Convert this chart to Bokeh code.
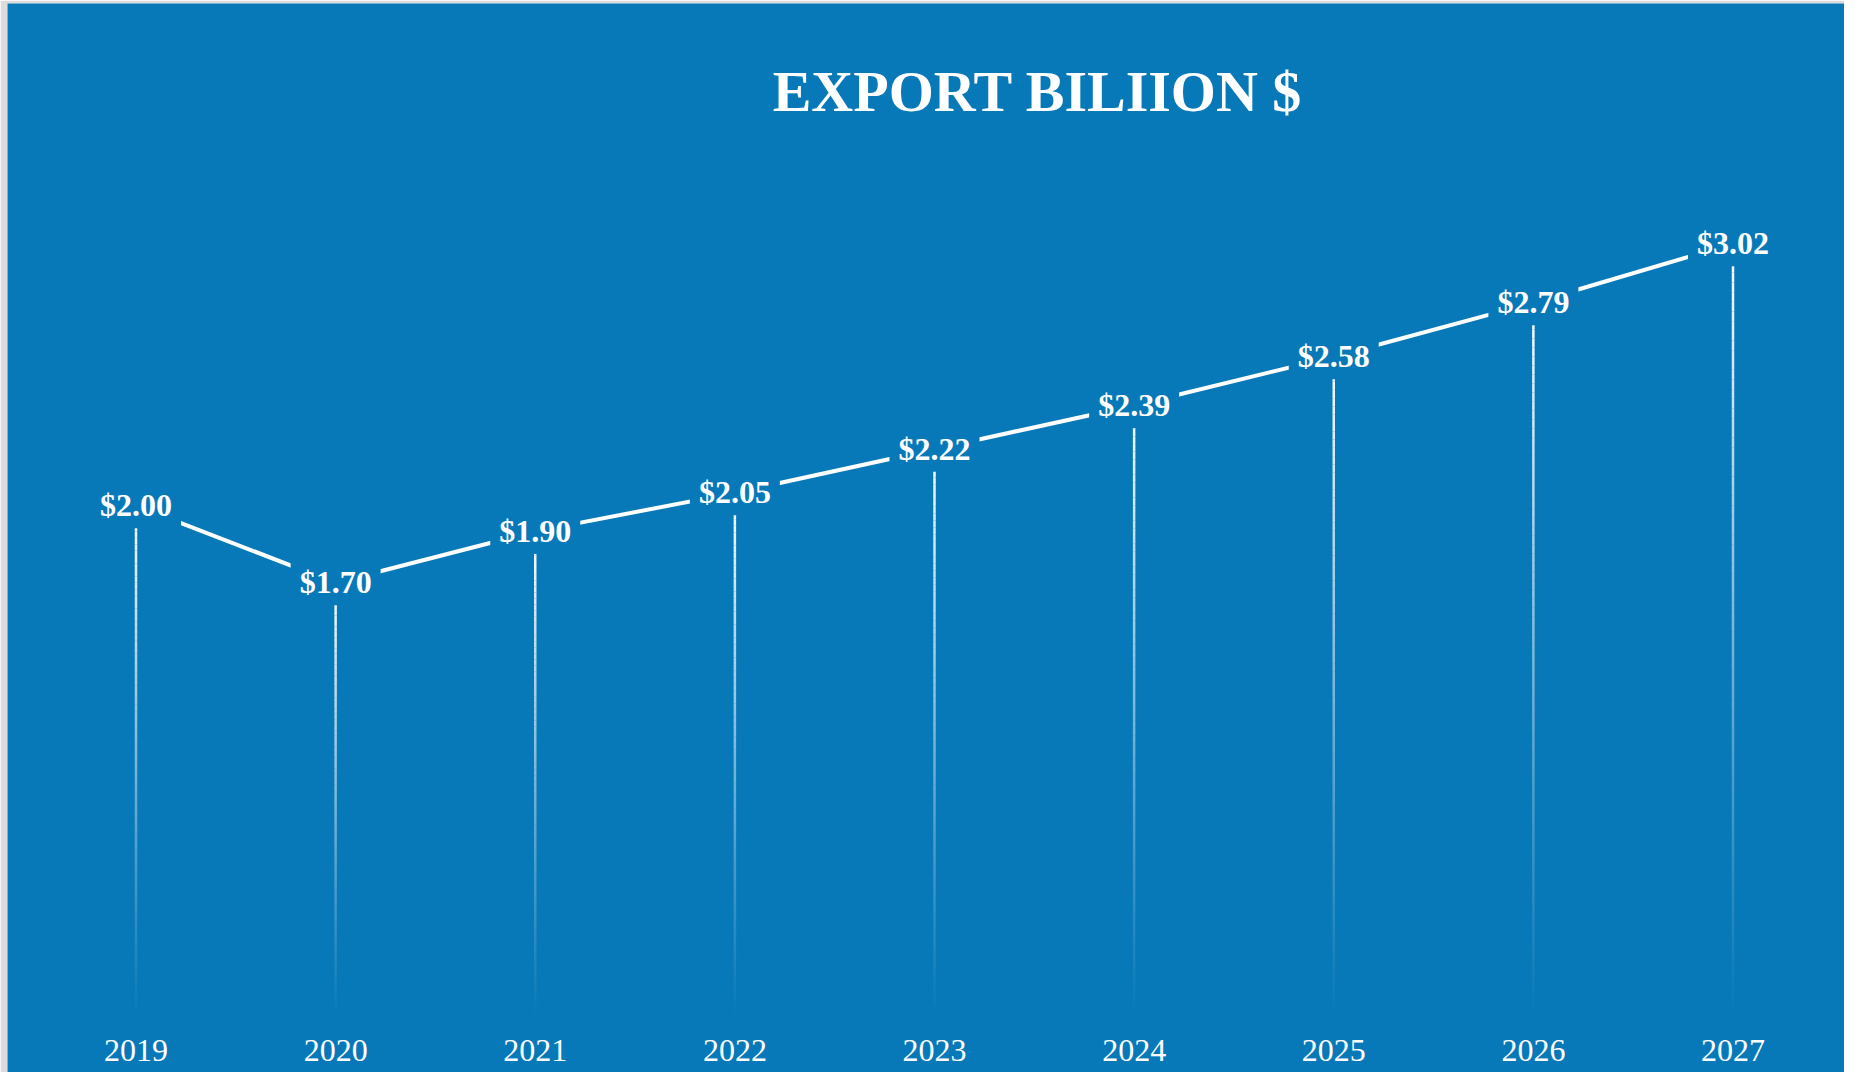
from bokeh.plotting import figure
from bokeh.models import ColumnDataSource, Range1d
from bokeh.core.properties import value
from bokeh.embed import file_html
from bokeh.resources import INLINE

# ---- data ----
years = [2019, 2020, 2021, 2022, 2023, 2024, 2025, 2026, 2027]
export_values = [2.00, 1.70, 1.90, 2.05, 2.22, 2.39, 2.58, 2.79, 3.02]
value_labels = ["$%.2f" % v for v in export_values]
year_labels = [str(y) for y in years]
title_text = "EXPORT BILIION $"

# ---- layout ----
W, H = 1844, 1072
BL, BT = 7, 3          # thin grey border (left, top)
FW, FH = W - BL, H - BT
BG = "#0879B8"
PX_PER_YEAR = 199.625
FIRST_PX = 135.5 - BL
PX_PER_UNIT = 256.9
ZERO_PX = 1019.0 - BT

x_start = years[0] - FIRST_PX / PX_PER_YEAR
x_end = x_start + FW / PX_PER_YEAR
y_end = ZERO_PX / PX_PER_UNIT
y_start = -(FH - ZERO_PX) / PX_PER_UNIT


def px_x(px):
    return x_start + (px - BL) / PX_PER_YEAR


def px_y(py):
    return y_end - (py - BT) / PX_PER_UNIT


p = figure(width=W, height=H, output_backend="svg", toolbar_location=None,
           x_range=Range1d(x_start, x_end), y_range=Range1d(y_start, y_end),
           min_border=0, min_border_left=BL, min_border_top=BT,
           background_fill_color=BG, border_fill_color="#DCDCDC",
           outline_line_color=None)
p.axis.visible = False
p.grid.visible = False

# gradient vertical stems (white at top fading to transparent at zero)
N = 80
sx, sy0, sy1, sa = [], [], [], []
for yr, v in zip(years, export_values):
    for i in range(N):
        a = v * i / N
        b = v * (i + 1) / N
        sx.append(yr)
        sy0.append(a)
        sy1.append(b)
        sa.append(((i + 0.5) / N) ** 1.1)
p.segment(x0="x", y0="y0", x1="x", y1="y1",
          source=ColumnDataSource(dict(x=sx, y0=sy0, y1=sy1, a=sa)),
          line_color="white", line_alpha="a", line_width=2.5)

# connecting line
src = ColumnDataSource(dict(x=years, y=export_values, lab=value_labels))
p.line("x", "y", source=src, line_color="white", line_width=4)

# value labels with background boxes
p.text("x", "y", text="lab", source=src, text_color="white",
       text_font=value("Liberation Serif"), text_font_style="bold",
       text_font_size="32px", text_align="center", text_baseline="middle",
       background_fill_color=BG,
       padding=dict(left=9, right=9, top=4, bottom=5))

# year labels
ysrc = ColumnDataSource(dict(x=years, y=[px_y(1050)] * len(years), lab=year_labels))
p.text("x", "y", text="lab", source=ysrc, text_color="white",
       text_font=value("Liberation Serif"), text_font_size="32px",
       text_align="center", text_baseline="middle")

# title
p.text(x=[px_x(1037)], y=[px_y(91)], text=[title_text], text_color="white",
       text_font=value("Liberation Serif"), text_font_style="bold",
       text_font_size="58px", text_align="center", text_baseline="middle")

open("out.html", "w").write(file_html(p, INLINE))
